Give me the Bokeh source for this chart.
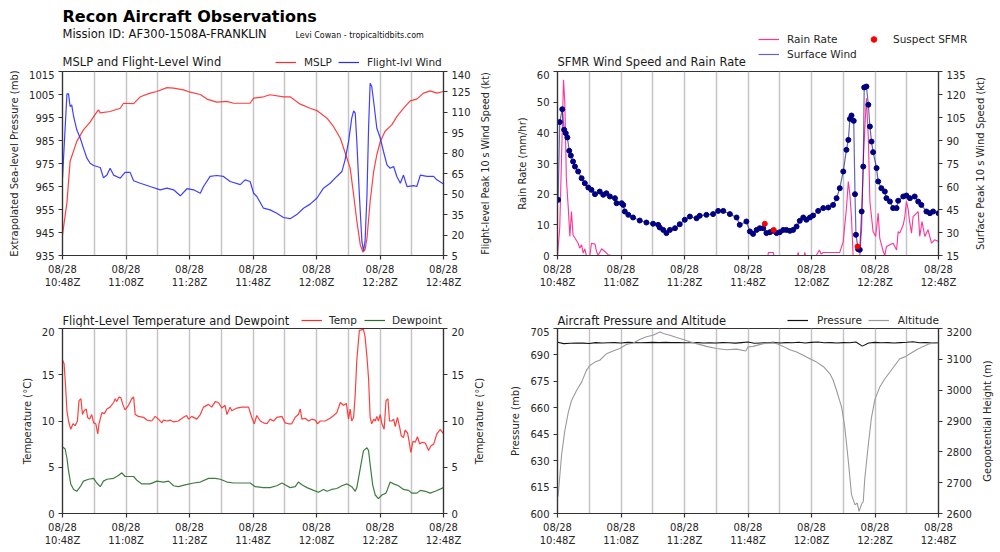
from bokeh.plotting import figure
from bokeh.models import Range1d, LinearAxis, FixedTicker, Label, Legend, LegendItem
from bokeh.layouts import column, row
from bokeh.embed import file_html
from bokeh.resources import INLINE

FONT = "DejaVu Sans"
TXT = "#262626"
NAN = float("nan")

# ---------------- data (time = minutes after 08/28 10:48Z) ----------------
tick_minutes = [0, 20, 40, 60, 80, 100, 120]
tick_labels = ["10:48Z", "11:08Z", "11:28Z", "11:48Z", "12:08Z", "12:28Z", "12:48Z"]
tick_date = "08/28"
grid_minutes = [10, 20, 30, 40, 50, 60, 70, 80, 90, 100, 110]

# Panel 1: MSLP (mb) and flight-level wind (kt)
mslp_t = [0, 1.4, 2.4, 4.5, 6.6, 8.7, 9.8, 11.3, 11.9, 15, 18.2, 19.2, 22.4, 24.5, 27.6, 29.7, 32.9, 35,
          38.1, 40.2, 43.4, 45.5, 48.6, 51.8, 53.9, 59.1, 60.2, 63.3, 65.4, 69.6, 71.7, 74.9, 78, 80.1,
          83.3, 85.4, 87.5, 89.6, 90.6, 91.7, 92.7, 93.8, 94.6, 95.3, 95.9, 96.9, 98, 99, 100.1, 101.6,
          103.7, 105.3, 107.4, 109.5, 111.6, 113.7, 115.8, 117.9, 120]
mslp = [944, 958, 976, 984.6, 989.6, 993, 995.4, 998.3, 997, 997.6, 999, 1001.2, 1001, 1004, 1005.6,
        1006.3, 1008, 1007.8, 1007, 1006, 1005, 1003, 1001.7, 1002, 1001.2, 1001.2, 1003.4, 1004, 1004.9,
        1004, 1004, 1000.8, 999, 998, 994.7, 991, 986, 977.3, 973, 961.4, 950, 939.6, 936.5, 937.5,
        942.5, 958.5, 971.5, 978.8, 984.6, 989, 991.8, 995.4, 999, 1002.2, 1003, 1005.6, 1006.6, 1005.6,
        1006.3]
flw_t = [0, 1.4, 1.9, 2.4, 2.9, 3.5, 4.5, 5.6, 6.6, 7.7, 8.7, 9.8, 11.9, 12.9, 14, 15, 16.1, 18.2, 19.7,
         21.3, 22.4, 24.5, 27.6, 30.8, 32.9, 35, 37.1, 39.2, 41.3, 43.4, 44.4, 46.5, 48.6, 50.7, 52.8, 56,
         57.5, 59.1, 60.2, 61.2, 63.3, 65.4, 67.5, 69.6, 71.7, 73.8, 75.9, 78, 80.1, 82.2, 84.3, 86.4, 88,
         89, 90.1, 91.1, 91.7, 92.2, 92.7, 93.5, 94.3, 94.8, 95.3, 95.9, 96.4, 96.9, 97.4, 98, 99, 100.1,
         101.1, 102.2, 103.2, 104.3, 105.3, 106.4, 107.4, 108.5, 110.6, 111.6, 112.7, 114.8, 116.9, 117.9,
         120]
flw = [61.7, 123.6, 123.6, 114.3, 115.5, 107, 97.2, 91, 83.8, 76.4, 72.7, 71, 69.6, 62, 64, 69, 64, 61.7,
       66, 66, 59.8, 58, 55.6, 53.2, 54.4, 53.2, 48.8, 54, 53.2, 50.7, 55.6, 63, 63.7, 63, 59.3, 57, 60.5,
       59.3, 50.7, 48.3, 39.7, 38.5, 36, 32.9, 32, 35, 39.7, 42.7, 47, 54.4, 58, 63, 66.6, 75.2, 88.6,
       105.8, 111.1, 109.4, 88.6, 49.5, 15.3, 8.4, 15.3, 49.5, 98.4, 131.4, 129, 118, 98.4, 91, 81.3,
       71.5, 69, 70.3, 63, 58, 64, 55.6, 56.3, 55.6, 64, 63, 63, 60.5, 57.4]

# Panel 2: SFMR surface wind (kt), suspect SFMR, rain rate (mm/hr)
sw_t = [0.2, 0.7, 1.5, 2.1, 2.6, 3.1, 3.7, 4.2, 4.9, 5.5, 6.5, 7.6, 8.6, 9.7, 10.7, 11.8, 13.3, 14.4,
        15.4, 16.5, 18.1, 18.6, 20.2, 20.7, 21.2, 22.3, 23.8, 25.9, 28, 30.1, 31.7, 32.2, 33.3, 34.3, 35.4,
        37, 38.5, 40.1, 41.7, 43.8, 44.8, 46.9, 49, 50.6, 52.2, 54.3, 56.4, 57.4, 59.5, 60.6, 61.6, 62.7,
        63.7, 64.8, 65.8, 66.9, 67.9, 69, 70, 71.1, 72.1, 73.2, 74.2, 75.3, 76.3, 77.4, 78.4, 79.5, 80.5,
        82.1, 83.7, 85.3, 86.8, 87.9, 88.9, 90, 91, 91.6, 92.1, 92.6, 93.3, 93.7, 94, 94.7, 95.2, 95.8,
        96.3, 96.6, 97.3, 97.9, 98.4, 98.9, 99.4, 100.5, 101, 102, 103.1, 103.6, 104.7, 105.7, 106.8,
        107.3, 108.9, 109.9, 111, 112.5, 113.6, 114.6, 116.2, 117.3, 118.3, 120]
sw = [51.3, 102, 110.4, 97, 94.8, 92, 83.3, 80.2, 76.3, 73, 69.8, 65.4, 62.2, 59.3, 57.8, 55, 56.7, 54.6,
      55.6, 53.5, 52.4, 49.1, 49.1, 48, 43.7, 41.5, 39.8, 37.8, 36.5, 35.7, 35, 33.3, 31.7, 29.6, 31.7,
      32.8, 35.4, 38.3, 40.4, 39.3, 40.9, 41.5, 42, 44.1, 44.1, 42, 39.8, 35, 37.2, 30.7, 29.1, 31.7, 32.8,
      32.8, 29.6, 30.2, 31.1, 29.6, 30.2, 31.7, 31.7, 31.1, 31.7, 33.9, 37.6, 39.8, 38.3, 39.8, 41.1,
      44.1, 45.9, 46.3, 48, 52.4, 58.9, 69.8, 83.9, 90.4, 104.1, 106.3, 102.8, 55, 28.5, 19.1, 18.7, 43.7,
      73, 124.6, 125.2, 113.3, 99.1, 89.3, 82.4, 72, 63.3, 58.9, 56.7, 52.4, 50.2, 45.9, 45.9, 50.7, 53.5,
      54.1, 52.4, 53.5, 50.2, 48, 43.7, 42.6, 43.7, 42.6]
sus_t = [65.3, 68.1, 94.5]
sus = [35.7, 31.7, 20.9]
rain_t = [0, 0.7, 1.9, 2.3, 2.8, 3.4, 3.9, 4.4, 4.9, 5.5, 6.5, 7.0, 7.6, 8.1, 8.6, 9.1, 10.2, 10.7, 11.8,
          12.3, 12.8, 13.9, 14.9, 16.0, 17, 66.3, 66.4, 68, 68.1, 75.6, 75.8, 76.0, 77.7, 77.9, 78.1,
          81.5, 82.5, 83, 83.7, 88.9, 90, 91, 91.6, 92.1, 92.6, 93.1, 95.2, 95.8, 96.3, 96.8, 97.3, 97.9,
          98.4, 99.4, 100.2, 101, 101.5, 102.6, 103.1, 103.6, 104.7, 105.7, 106.8, 107.3, 107.8, 108.9,
          109.4, 109.9, 110.4, 110.9, 111.5, 112, 113.6, 114.1, 114.8, 115.7, 116.7, 117.8, 118.8, 120]
rain = [0, 8.9, 57.3, 50, 25, 15.4, 6.2, 14.3, 6.7, 5.7, 4, 2.4, 3.5, 0.8, 2.2, 0, 0, 4, 3.7, 1.3, 0,
        2.2, 1.3, 0.2, 0, 0, 1, 1, 0, 0, 1, 0, 0, 1, 0, 0, 1.8, 0.5, 1, 1, 4.6, 15.4, 24.1, 19.8, 12.2,
        0, 0, 8.9, 30.7, 41.5, 51.3, 38.3, 17.6, 7.8, 6.2, 13.8, 5.7, 1.3, 0, 2.9, 3.5, 4, 1.8, 7.8, 7.3,
        10, 12.7, 17.6, 15.4, 11.1, 7.3, 12.7, 14.3, 6.2, 11.1, 6.2, 8.4, 4, 5.1, 4.6]

# Panel 3: flight-level temperature and dewpoint (C)
temp_t = [0, 0.5, 1.0, 1.4, 1.9, 2.6, 3.3, 4.0, 4.7, 5.2, 5.8, 6.3, 6.8, 7.5, 7.9, 8.5, 9.2, 9.8, 10.5,
          11.1, 11.5, 12.4, 13.2, 14, 15, 16.1, 16.6, 17.1, 17.8, 18.4, 19, 19.7, 20.8, 21.8, 22.4, 22.9,
          23.9, 25.5, 26.6, 28.1, 29.2, 30.2, 31.3, 31.8, 32.9, 33.9, 35, 36.5, 38.1, 39.1, 39.7, 40.7,
          42.3, 43.4, 44.4, 46, 47, 48.1, 49.1, 50.2, 51.2, 51.8, 52.8, 53.3, 54.9, 56.5, 58.6, 59.6, 60.4,
          61.2, 62.3, 63.3, 64.4, 65.4, 66.5, 67.5, 69.1, 70.1, 71.2, 72.2, 73.3, 74.3, 74.9, 75.4, 76.4,
          77.5, 78.5, 79.6, 80.3, 81.2, 82.7, 84.3, 85.4, 86.4, 87.5, 88.5, 89.4, 90.1, 90.6, 91.1, 91.7,
          92.2, 92.7, 93.5, 94.8, 95.3, 95.9, 96.4, 96.9, 97.4, 98, 98.5, 99, 99.5, 100.1, 100.6, 101.3,
          101.9, 102.5, 103, 103.7, 104.3, 104.8, 105.5, 106.2, 106.7, 107.4, 107.9, 108.7, 109.3, 109.7,
          110.4, 111.1, 111.8, 112.5, 113.2, 114.3, 115.3, 116, 116.9, 117.9, 119, 120]
temp = [16.6, 16.2, 13.6, 11.1, 10, 9.1, 9.7, 9.5, 10, 12.2, 12.4, 10.7, 11.1, 11.3, 10.4, 10.2, 10.7,
        9.8, 9.7, 8.6, 9.7, 10.9, 10.8, 11.3, 11.5, 12, 12.4, 12.1, 12.6, 12.5, 11.8, 11.2, 11.7, 12.4,
        12.6, 10.7, 10.5, 10.4, 10.1, 10, 10.5, 10.2, 9.8, 10.1, 10, 10.1, 9.9, 10, 10.4, 10.6, 10.2, 10.5,
        10.2, 10.7, 11.5, 11.8, 11.5, 12.1, 12, 11.4, 11.7, 10.7, 11.5, 11.1, 11.4, 11.5, 11.5, 10.4, 9.7,
        10.6, 10, 9.8, 9.7, 10.2, 10, 10.4, 10.5, 9.8, 9.7, 9.7, 10.4, 10.7, 11.3, 10.2, 10.3, 10, 10.2,
        10.1, 9.7, 10, 10, 10.3, 10.6, 10.9, 12, 11.7, 11.9, 10.2, 11.3, 10, 10.4, 12.9, 16.6, 19.8, 19.9,
        19.1, 16.9, 14.6, 10.4, 9.7, 10.2, 10, 10.5, 10, 10.7, 9.7, 9.1, 12.2, 12.4, 10, 10, 10.2, 9.4,
        10.4, 9.3, 8.4, 8.2, 9, 8.7, 7.5, 6.6, 7.8, 7.7, 8.3, 7.5, 7.7, 7.6, 6.8, 7.3, 7.5, 8.6, 9.1, 8.6]
dew_t = [0, 0.8, 1.4, 1.9, 2.6, 3.5, 4.5, 5.6, 6.6, 8.2, 9.8, 10.8, 11.9, 12.9, 14, 16.1, 17.6, 18.7,
         19.7, 21.3, 22.4, 23.4, 25, 27.6, 29.7, 31.8, 33.4, 35, 36.5, 38.6, 41.3, 43.4, 46, 48.1, 49.7,
         51.8, 53.9, 56, 59.1, 60.7, 63.3, 65.4, 67.5, 69.1, 70.1, 71.7, 73.3, 74.3, 75.4, 77, 79.1, 80.6,
         82.2, 83.3, 84.8, 86.4, 88, 89.6, 91.1, 92.2, 92.7, 93.8, 94.8, 95.9, 96.4, 96.9, 97.7, 98.5,
         99.5, 100.6, 101.9, 103.2, 104.3, 105.8, 107.4, 109, 110, 111.6, 112.7, 114.3, 115.8, 117.4, 120]
dew = [7.2, 7, 6, 4.6, 3.2, 2.6, 2.4, 2.9, 3.5, 3.7, 3.8, 3.3, 2.9, 3.5, 3.7, 3.8, 4.1, 4.4, 4, 4, 4,
       3.6, 3.2, 3.2, 3.5, 3.4, 3.5, 3, 2.9, 3.1, 3.3, 3.4, 3.8, 3.8, 3.7, 3.4, 3.3, 3.3, 3.3, 2.9, 2.8,
       2.8, 3, 3.3, 3.1, 2.8, 2.9, 3.4, 3.1, 2.8, 2.5, 2.3, 2.6, 2.4, 2.6, 2.7, 3, 3.2, 2.9, 2.4, 2.8,
       4.9, 6.8, 7.1, 6.8, 5.3, 3.1, 2, 1.6, 2, 2.2, 3.4, 3.2, 3, 2.6, 2.5, 2.2, 2.2, 2.5, 2.4, 2.2, 2.4,
       2.8]

# Panel 4: aircraft pressure (mb) and geopotential height (m)
pres_t = [0, 2, 4, 6, 8, 10, 12, 14, 16, 18, 20, 22, 24, 26, 28, 30, 32, 34, 36, 38, 40, 42, 44, 46, 48,
          50, 52, 54, 56, 58, 60, 62, 64, 66, 68, 70, 72, 74, 76, 78, 80, 82, 84, 86, 88, 90, 92, 94, 96,
          98, 100, 102, 104, 106, 108, 110, 112, 114, 116, 118, 120]
pres = [697.2, 696.4, 696.6, 696.8, 696.7, 696.5, 697.0, 696.8, 696.9, 697.0, 696.8, 697.1, 697.0,
        696.9, 697.0, 697.1, 697.0, 697.1, 697.0, 697.0, 696.9, 696.9, 697.0, 696.8, 696.9, 696.8, 697.0,
        696.9, 696.7, 697.0, 697.3, 696.6, 696.8, 696.9, 697.1, 696.8, 697.0, 696.9, 697.2, 696.8, 697.1,
        697.3, 696.9, 697.0, 696.8, 697.0, 696.9, 697.3, 695.0, 696.8, 697.1, 696.9, 697.0, 696.8, 697.0,
        697.2, 697.5, 696.9, 697.0, 696.8, 697.0]
alt_t = [0.2, 0.5, 1.3, 2.3, 3.4, 4.4, 6, 7.6, 9.1, 10.2, 11.8, 13.3, 15.4, 17.5, 19.6, 21.7, 23.8, 25.9,
         28, 30.1, 31.7, 32.4, 33.3, 35.4, 37.5, 39.6, 41.7, 43.8, 46.9, 50.1, 53.2, 56.4, 59.3, 60, 61.6,
         64.8, 67.9, 69, 71.1, 73.2, 75.3, 77.4, 79.5, 81.6, 83.7, 85.8, 86.8, 87.9, 89.5, 90.5, 91.6,
         92.6, 93.7, 94.4, 95, 95.8, 96.3, 96.8, 97.9, 98.9, 100, 101.5, 103.1, 104.7, 106.2, 107.8,
         109.4, 111, 113.1, 115.2, 117.3, 120]
alt = [2655, 2694, 2792, 2868, 2928, 2966, 2999, 3026, 3064, 3080, 3091, 3097, 3118, 3127, 3135, 3148,
       3153, 3164, 3173, 3178, 3186, 3189, 3184, 3178, 3171, 3164, 3157, 3151, 3142, 3135, 3131, 3133,
       3127, 3140, 3142, 3151, 3154, 3151, 3142, 3131, 3124, 3113, 3102, 3091, 3077, 3053, 3033, 2999,
       2944, 2879, 2770, 2661, 2628, 2634, 2607, 2631, 2639, 2715, 2824, 2912, 2971, 3010, 3037, 3059,
       3080, 3102, 3108, 3118, 3131, 3142, 3151, 3154]

# colours
C_MSLP, C_FLW = "#ff2a2a", "#2a2aff"
C_RAIN, C_SW, C_SUS = "#ff3399", "#000080", "#ff0000"
C_TEMP, C_DEW = "#ff2a2a", "#2a6e2a"
C_PRES, C_ALT = "#111111", "#9a9a9a"


def style_axis(ax):
    ax.axis_line_color = "#333333"
    ax.axis_line_width = 1.2
    ax.major_tick_line_color = "#333333"
    ax.major_tick_line_width = 1.2
    ax.major_tick_out = 4
    ax.major_tick_in = 0
    ax.minor_tick_line_color = None
    ax.major_label_text_font = FONT
    ax.major_label_text_font_size = "10px"
    ax.major_label_text_color = TXT
    ax.axis_label_text_font = FONT
    ax.axis_label_text_font_size = "10px"
    ax.axis_label_text_font_style = "normal"
    ax.axis_label_text_color = TXT
    ax.major_label_standoff = 4
    ax.axis_label_standoff = 6


def make_fig(width, height, bottom, left, right, yr, yticks, ylabel, yr2, yticks2):
    p = figure(width=width, height=height, x_range=Range1d(0, 120), y_range=Range1d(*yr),
               output_backend="svg", toolbar_location=None,
               min_border_top=1, min_border_bottom=bottom,
               min_border_left=left, min_border_right=right)
    p.outline_line_color = "#333333"
    p.outline_line_width = 1.2
    p.ygrid.visible = False
    p.xgrid.ticker = FixedTicker(ticks=grid_minutes)
    p.xgrid.grid_line_color = "#c4c4c4"
    p.xgrid.grid_line_width = 1.5
    p.xaxis.ticker = FixedTicker(ticks=tick_minutes)
    p.xaxis.major_label_overrides = {m: tick_date + "\n" + lab for m, lab in zip(tick_minutes, tick_labels)}
    p.yaxis.ticker = FixedTicker(ticks=yticks)
    p.yaxis.axis_label = ylabel
    p.extra_y_ranges = {"r": Range1d(*yr2)}
    ax2 = LinearAxis(y_range_name="r", ticker=FixedTicker(ticks=yticks2))
    p.add_layout(ax2, "right")
    for ax in p.xaxis + p.yaxis:
        style_axis(ax)
    style_axis(ax2)
    return p


def make_strip(width, height):
    s = figure(width=width, height=height, x_range=Range1d(0, width), y_range=Range1d(0, height),
               x_axis_type=None, y_axis_type=None, output_backend="svg", toolbar_location=None,
               min_border=0)
    s.grid.visible = False
    s.outline_line_color = None
    return s


def label_strip(width, height, bottom, left, text, size="10px"):
    """Narrow figure whose (tick-less) left axis carries a right-hand axis title, read bottom-to-top."""
    s = figure(width=width, height=height, x_range=Range1d(0, 1), y_range=Range1d(0, 1),
               x_axis_type=None, output_backend="svg", toolbar_location=None,
               min_border_top=1, min_border_bottom=bottom, min_border_left=left, min_border_right=0)
    s.grid.visible = False
    s.outline_line_color = None
    ax = s.yaxis[0]
    ax.ticker = FixedTicker(ticks=[])
    ax.axis_line_color = None
    ax.major_tick_line_color = None
    ax.minor_tick_line_color = None
    ax.major_label_text_font_size = "0px"
    ax.axis_label = text
    ax.axis_label_standoff = 0
    ax.axis_label_text_font = FONT
    ax.axis_label_text_font_size = size
    ax.axis_label_text_font_style = "normal"
    ax.axis_label_text_color = TXT
    return s


def add_text(p, x, y, text, size, bold=False, color="#1a1a1a", baseline="middle"):
    p.add_layout(Label(x=x, y=y, x_units="screen", y_units="screen", text=text,
                       text_font=FONT, text_font_size=size, text_color=color,
                       text_font_style="bold" if bold else "normal", text_baseline=baseline))


def add_legend(p, items, loc, orientation="horizontal", spacing=6, standoff=8):
    lg = Legend(items=items, location=loc, orientation=orientation, padding=0, margin=0,
                spacing=spacing, glyph_width=21, glyph_height=14, label_height=14,
                label_standoff=standoff, label_text_font=FONT, label_text_font_size="10.5px",
                label_text_color=TXT, background_fill_alpha=0, border_line_alpha=0)
    p.add_layout(lg)


# ---------------- header strip (page y 0-70) ----------------
top = make_strip(1000, 70)
add_text(top, 62, 64, "Recon Aircraft Observations", "16px", bold=True, color="#000000", baseline="top")
add_text(top, 62, 44, "Mission ID: AF300-1508A-FRANKLIN", "11.5px", color="#111111", baseline="top")
add_text(top, 295, 35.5, "Levi Cowan - tropicaltidbits.com", "8px", color="#111111")
add_text(top, 62, 9, "MSLP and Flight-Level Wind", "11.5px")
add_text(top, 557, 9, "SFMR Wind Speed and Rain Rate", "11.5px")
k_mslp = top.line([NAN], [NAN], line_color=C_MSLP, line_width=1.2)
k_flw = top.line([NAN], [NAN], line_color=C_FLW, line_width=1.2)
k_rain = top.line([NAN], [NAN], line_color=C_RAIN, line_width=1.2)
k_sw = top.line([NAN], [NAN], line_color=C_SW, line_width=1.2, line_alpha=0.6)
k_sus = top.scatter([NAN], [NAN], size=5, fill_color=C_SUS, line_color=C_SUS)
add_legend(top, [LegendItem(label="MSLP", renderers=[k_mslp]),
                 LegendItem(label="Flight-lvl Wind", renderers=[k_flw])], (275, 1))
add_legend(top, [LegendItem(label="Rain Rate", renderers=[k_rain]),
                 LegendItem(label="Surface Wind", renderers=[k_sw])], (758, 9),
           orientation="vertical", spacing=1)
add_legend(top, [LegendItem(label="Suspect SFMR", renderers=[k_sus])], (863, 24), standoff=9)

# ---------------- panel 1 ----------------
p1 = make_fig(475, 220, 35, 62, 32, (935, 1015), list(range(935, 1016, 10)),
              "Extrapolated Sea-level Pressure (mb)", (5, 140), list(range(5, 141, 15)))
p1.line(mslp_t, mslp, line_color=C_MSLP, line_width=1.2, line_alpha=0.9)
p1.line(flw_t, flw, line_color=C_FLW, line_width=1.2, line_alpha=0.9, y_range_name="r")
s1 = label_strip(25, 220, 29, 15, "Flight-level Peak 10 s Wind Speed (kt)", size="9.6px")

# ---------------- panel 2 ----------------
p2 = make_fig(471, 220, 35, 57, 33, (0, 60), list(range(0, 61, 10)), "Rain Rate (mm/hr)",
              (15, 135), list(range(15, 136, 15)))
p2.line(rain_t, rain, line_color=C_RAIN, line_width=1.1)
p2.line(sw_t, sw, line_color=C_SW, line_width=1.2, line_alpha=0.6, y_range_name="r")
p2.scatter(sw_t, sw, size=5, fill_color=C_SW, line_color=C_SW, y_range_name="r")
p2.scatter(sus_t, sus, size=5, fill_color=C_SUS, line_color=C_SUS, y_range_name="r")
s2 = label_strip(29, 220, 35, 14, "Surface Peak 10 s Wind Speed (kt)")

# ---------------- middle strip (page y 290-327) ----------------
mid = make_strip(1000, 37)
add_text(mid, 62, 7, "Flight-Level Temperature and Dewpoint", "11.5px")
add_text(mid, 557, 7, "Aircraft Pressure and Altitude", "11.5px")
k_temp = mid.line([NAN], [NAN], line_color=C_TEMP, line_width=1.2)
k_dew = mid.line([NAN], [NAN], line_color=C_DEW, line_width=1.2)
k_pres = mid.line([NAN], [NAN], line_color=C_PRES, line_width=1.2)
k_alt = mid.line([NAN], [NAN], line_color=C_ALT, line_width=1.2)
add_legend(mid, [LegendItem(label="Temp", renderers=[k_temp]),
                 LegendItem(label="Dewpoint", renderers=[k_dew])], (301, 0), spacing=7, standoff=7)
add_legend(mid, [LegendItem(label="Pressure", renderers=[k_pres]),
                 LegendItem(label="Altitude", renderers=[k_alt])], (787, 0), spacing=6, standoff=9)

# ---------------- panel 3 ----------------
p3 = make_fig(470, 225, 39, 62, 27, (0, 20), [0, 5, 10, 15, 20], "Temperature (°C)",
              (0, 20), [0, 5, 10, 15, 20])
p3.line(temp_t, temp, line_color=C_TEMP, line_width=1.2, line_alpha=0.9)
p3.line(dew_t, dew, line_color=C_DEW, line_width=1.2, line_alpha=0.9)
s3 = label_strip(30, 225, 39, 13, "Temperature (°C)")

# ---------------- panel 4 ----------------
p4 = make_fig(478, 225, 39, 57, 40, (600, 705), list(range(600, 706, 15)), "Pressure (mb)",
              (2600, 3200), list(range(2600, 3201, 100)))
p4.line(pres_t, pres, line_color=C_PRES, line_width=1.1)
p4.line(alt_t, alt, line_color=C_ALT, line_width=1.1, y_range_name="r")
s4 = label_strip(22, 225, 39, 14, "Geopotential Height (m)")

layout = column(top, row(p1, s1, p2, s2), mid, row(p3, s3, p4, s4))
open("out.html", "w").write(file_html(layout, INLINE))
